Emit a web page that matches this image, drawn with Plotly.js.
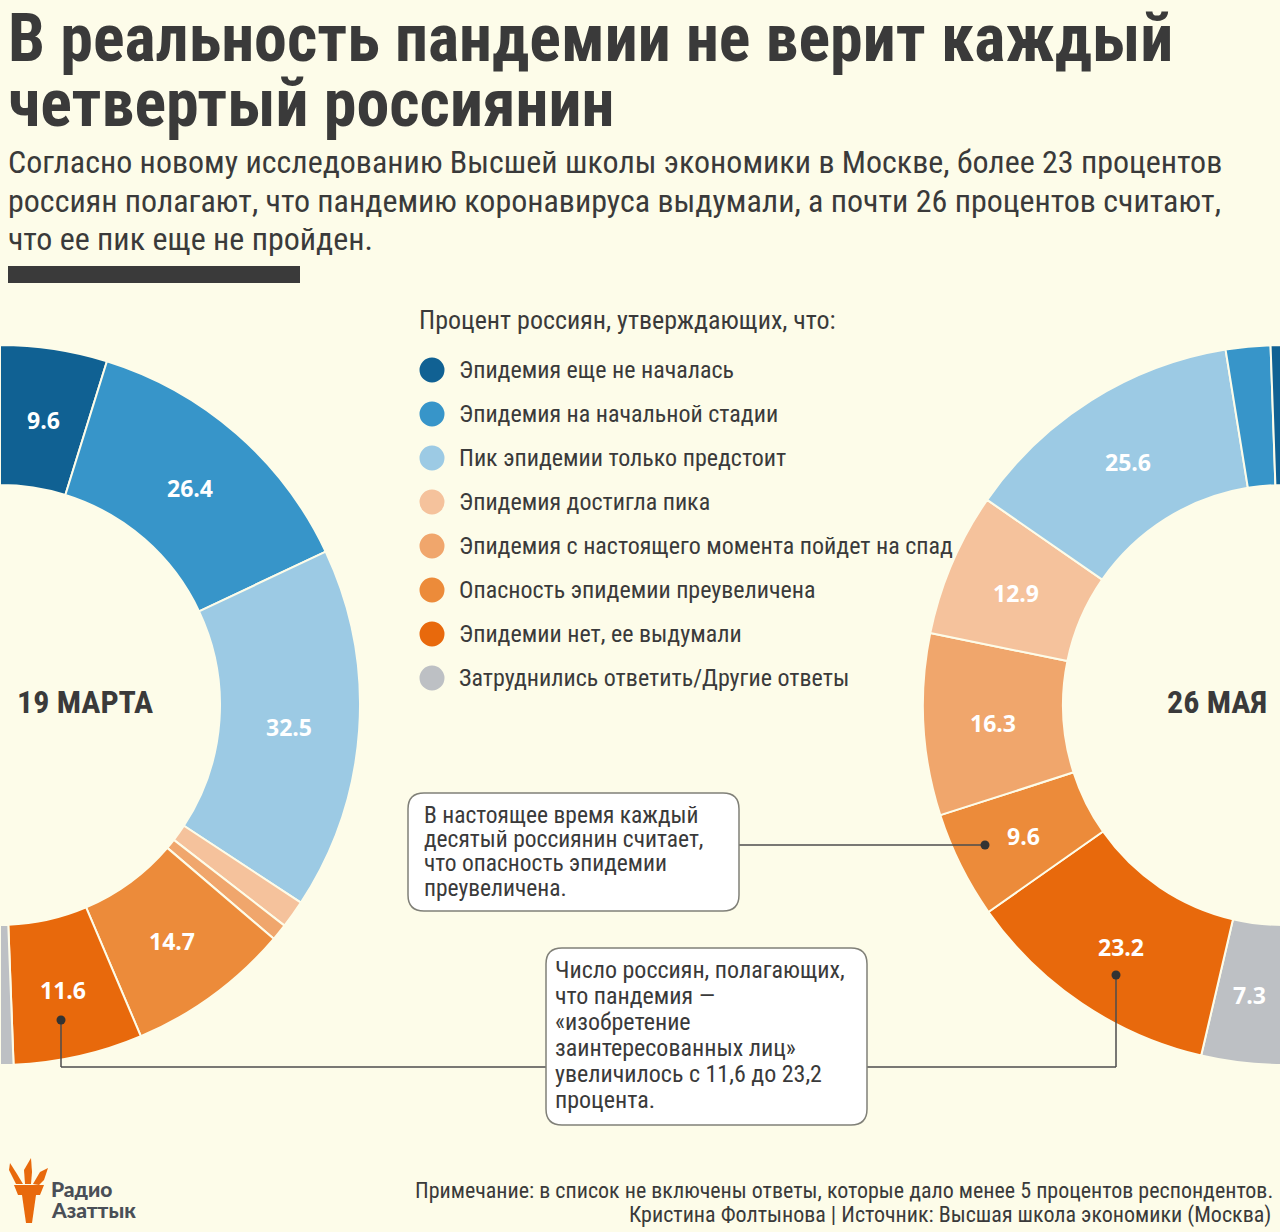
<!DOCTYPE html>
<html>
<head>
<meta charset="utf-8">
<script src="https://cdn.plot.ly/plotly-3.0.1.min.js"></script>
<style>
  html, body { margin:0; padding:0; width:1280px; height:1232px; overflow:hidden; background:#fdfce9; }
  #chart { position:absolute; left:-360px; top:0; width:2003px; height:1232px; }
</style>
</head>
<body>
<div id="chart"></div>
<script>
// ---------------- DATA ----------------
const categories = [
  'Эпидемия еще не началась',
  'Эпидемия на начальной стадии',
  'Пик эпидемии только предстоит',
  'Эпидемия достигла пика',
  'Эпидемия с настоящего момента пойдет на спад',
  'Опасность эпидемии преувеличена',
  'Эпидемии нет, ее выдумали',
  'Затруднились ответить/Другие ответы'
];
const marchValues = [9.6, 26.4, 32.5, 2.5, 1.5, 14.7, 11.6, 1.2];
const mayValues   = [1.1, 4.0, 25.6, 12.9, 16.3, 9.6, 23.2, 7.3];
const dateLabels  = ['19 МАРТА', '26 МАЯ'];
const labelThreshold = 5;
const legendTitle = 'Процент россиян, утверждающих, что:';
const titleLines = ['В реальность пандемии не верит каждый', 'четвертый россиянин'];
const subtitleLines = [
  'Согласно новому исследованию Высшей школы экономики в Москве, более 23 процентов',
  'россиян полагают, что пандемию коронавируса выдумали, а почти 26 процентов считают,',
  'что ее пик еще не пройден.'
];
const callout1 = ['В настоящее время каждый', 'десятый россиянин считает,', 'что опасность эпидемии', 'преувеличена.'];
const callout2 = ['Число россиян, полагающих,', 'что пандемия —', '«изобретение', 'заинтересованных лиц»', 'увеличилось с 11,6 до 23,2', 'процента.'];
const footerLines = [
  'Примечание: в список не включены ответы, которые дало менее 5 процентов респондентов.',
  'Кристина Фолтынова | Источник: Высшая школа экономики (Москва)'
];
const logoLines = ['Радио', 'Азаттык'];

// ---------------- STYLE ----------------
const colors = ['#106193', '#3795c9', '#9ccae4', '#f5c29c', '#f0a66c', '#ec8b3a', '#e8690c', '#bdc0c4'];
const BG = '#fdfce9';
const INK = '#3a3a3a';
const COND = '"Roboto Condensed", Roboto, sans-serif';

const W = 2003, H = 1232, OFF = 360;
const px = x => (x + OFF) / W;
const py = y => 1 - y / H;
const CY = 705, R = 360, RIN = 220;

function sum(a){ return a.reduce((s,v)=>s+v,0); }

// visibleSide: 'right' -> visible half to the right of the centre (clockwise from 12 o'clock)
//              'left'  -> visible half to the left (hidden half first, then reversed categories)
function pieTrace(values, cxPage, visibleSide){
  let labels = categories.slice();
  let vals = values.slice();
  let cols = colors.slice();
  let lw = values.map(() => 2);
  const hiddenV = sum(values);
  if (visibleSide === 'right') {
    labels.push(' '); vals.push(hiddenV); cols.push('rgba(0,0,0,0)'); lw.push(0);
  } else {
    labels = [' '].concat(labels.reverse());
    vals = [hiddenV].concat(vals.reverse());
    cols = ['rgba(0,0,0,0)'].concat(cols.reverse());
    lw = [0].concat(lw.reverse());
  }
  return {
    type:'pie', labels, values:vals, sort:false, direction:'clockwise', rotation:0,
    hole: RIN/R,
    domain:{ x:[px(cxPage - R), Math.min(1, px(cxPage + R))], y:[py(CY + R), py(CY - R)] },
    marker:{ colors: cols, line:{ color: BG, width: lw } },
    textinfo:'none', hoverinfo:'skip', showlegend:false
  };
}

const traces = [ pieTrace(marchValues, 0, 'right'), pieTrace(mayValues, 1283, 'left') ];

const annotations = [];
const shapes = [];
function ann(text, x, y, size, opts){
  annotations.push(Object.assign({
    text, x:px(x), y:py(y), xref:'paper', yref:'paper', showarrow:false,
    xanchor:'left', yanchor:'middle',
    font:{ family:COND, size, color:INK }
  }, opts || {}));
}

// value labels placed at the middle of each (half-donut) slice
function sliceLabels(values, cx, sign){
  const total = sum(values);
  const rMid = (R + RIN) / 2;
  let cum = 0;
  values.forEach(v => {
    const mid = (cum + v/2) / total * Math.PI;
    cum += v;
    if (v >= labelThreshold) {
      ann(String(v), cx + sign*rMid*Math.sin(mid), CY - rMid*Math.cos(mid) + 2, 23,
          { xanchor:'center', font:{ family:'"Open Sans", sans-serif', size:23, color:'#ffffff', weight:700 } });
    }
  });
}
sliceLabels(marchValues, 0, 1);
sliceLabels(mayValues, 1283, -1);

// Title
titleLines.forEach((t,i) => ann(t, 6, 39 + i*65, 66, { font:{ family:COND, size:66, color:INK, weight:700 } }));
// Subtitle
subtitleLines.forEach((t,i) => ann(t, 6, 162 + i*38.5, 32));
// bar
shapes.push({ type:'rect', xref:'paper', yref:'paper', x0:px(8), x1:px(300), y0:py(266), y1:py(283), fillcolor:'#3a3a3a', line:{width:0}, layer:'above' });

// Legend
ann(legendTitle, 417, 320, 26);
categories.forEach((c,i) => {
  const cy = 370 + i*44;
  shapes.push({ type:'circle', xref:'paper', yref:'paper', x0:px(419.5), x1:px(444.5), y0:py(cy+12.5), y1:py(cy-12.5), fillcolor:colors[i], line:{width:0}, layer:'above' });
  ann(c, 457, cy, 24);
});

// Date labels
ann(dateLabels[0], 15, 702, 32, { font:{ family:COND, size:32, color:INK, weight:700 } });
ann(dateLabels[1], 1269, 702, 32, { xanchor:'right', font:{ family:COND, size:32, color:INK, weight:700 } });

// Rounded boxes
function roundRect(x0,y0,x1,y1,r){
  const X = px, Y = py;
  return `M ${X(x0+r)},${Y(y0)} L ${X(x1-r)},${Y(y0)} Q ${X(x1)},${Y(y0)} ${X(x1)},${Y(y0+r)} ` +
         `L ${X(x1)},${Y(y1-r)} Q ${X(x1)},${Y(y1)} ${X(x1-r)},${Y(y1)} ` +
         `L ${X(x0+r)},${Y(y1)} Q ${X(x0)},${Y(y1)} ${X(x0)},${Y(y1-r)} ` +
         `L ${X(x0)},${Y(y0+r)} Q ${X(x0)},${Y(y0)} ${X(x0+r)},${Y(y0)} Z`;
}
const LINEC = '#4d4d4d';
function seg(x0,y0,x1,y1){ shapes.push({ type:'line', xref:'paper', yref:'paper', x0:px(x0), y0:py(y0), x1:px(x1), y1:py(y1), line:{ color:LINEC, width:1.5 }, layer:'above' }); }
seg(739, 845, 985, 845);
seg(61, 1020, 61, 1067); seg(61, 1067, 546, 1067);
seg(867, 1067, 1116, 1067); seg(1116, 1067, 1116, 975);
[[985,845],[61,1020],[1116,975]].forEach(([x,y]) => {
  shapes.push({ type:'circle', xref:'paper', yref:'paper', x0:px(x-4.5), x1:px(x+4.5), y0:py(y+4.5), y1:py(y-4.5), fillcolor:'#333333', line:{width:0}, layer:'above' });
});
shapes.push({ type:'path', xref:'paper', yref:'paper', path: roundRect(408,793,739,911,16), fillcolor:'#ffffff', line:{ color:'#808078', width:1.5 }, layer:'above' });
shapes.push({ type:'path', xref:'paper', yref:'paper', path: roundRect(546,948,867,1125,16), fillcolor:'#ffffff', line:{ color:'#808078', width:1.5 }, layer:'above' });
callout1.forEach((t,i) => ann(t, 422, 815 + i*24.2, 23.5));
callout2.forEach((t,i) => ann(t, 553, 970 + i*26, 24));

// Footer
ann(footerLines[0], 1275, 1190, 22, { xanchor:'right' });
ann(footerLines[1], 1273, 1215, 22, { xanchor:'right' });

// Logo
const ORG = '#e8690c';
function poly(pts){ return 'M ' + pts.map(p => px(p[0]) + ',' + py(p[1])).join(' L ') + ' Z'; }
shapes.push({ type:'path', xref:'paper', yref:'paper', path: poly([[14,1185],[44,1185],[40,1195],[18,1195]]), fillcolor:ORG, line:{width:0}, layer:'above' });
shapes.push({ type:'path', xref:'paper', yref:'paper', path: poly([[22,1195],[36,1195],[32,1223],[26,1223]]), fillcolor:ORG, line:{width:0}, layer:'above' });
shapes.push({ type:'path', xref:'paper', yref:'paper', path: poly([[16,1184],[9,1170],[10,1163],[17,1174],[23,1184]]), fillcolor:ORG, line:{width:0}, layer:'above' });
shapes.push({ type:'path', xref:'paper', yref:'paper', path: poly([[25,1184],[24,1170],[31,1158],[32,1172],[31,1184]]), fillcolor:ORG, line:{width:0}, layer:'above' });
shapes.push({ type:'path', xref:'paper', yref:'paper', path: poly([[33,1184],[40,1172],[48,1168],[44,1180],[39,1185]]), fillcolor:ORG, line:{width:0}, layer:'above' });
ann(logoLines[0], 49, 1188, 21, { font:{ family:'Lato, sans-serif', size:21, color:'#4a4f57', weight:900 } });
ann(logoLines[1], 49, 1209, 21, { font:{ family:'Lato, sans-serif', size:21, color:'#4a4f57', weight:900 } });

const layout = {
  width:W, height:H, margin:{l:0,r:0,t:0,b:0},
  paper_bgcolor:BG, plot_bgcolor:BG,
  showlegend:false, annotations, shapes
};
Plotly.newPlot('chart', traces, layout, { displayModeBar:false, staticPlot:true });
</script>
</body>
</html>
